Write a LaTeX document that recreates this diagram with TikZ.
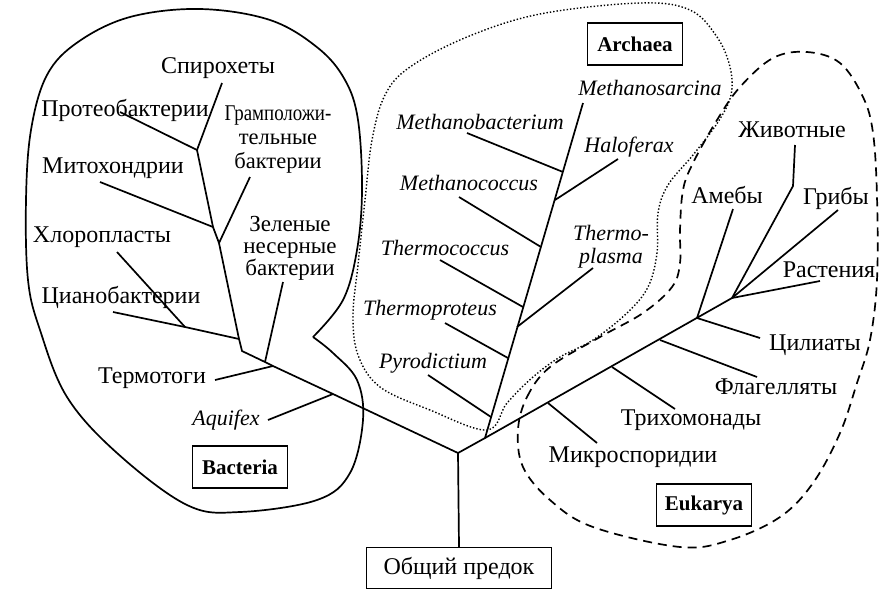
\documentclass[tikz,border=0pt]{standalone}
\usepackage{fontspec}
\setmainfont{Liberation Serif}
\begin{document}
\begin{tikzpicture}[x=1pt,y=-1pt,
  lbl/.style={inner sep=0pt, font=\fontsize{24}{23}\selectfont},
  ilbl/.style={inner sep=0pt, font=\fontsize{22}{23}\selectfont\itshape},
  tag/.style={draw, line width=1.3pt, minimum width=95pt, minimum height=42pt, inner sep=0pt, font=\fontsize{21}{22}\selectfont\bfseries},
  branch/.style={line width=1.7pt, line join=round},
  solidout/.style={line width=1.7pt},
  dotout/.style={line width=1.4pt, dotted},
  dashout/.style={line width=1.7pt, dash pattern=on 9pt off 6pt}]
\useasboundingbox (0,0) rectangle (890,590);

% ---------- outlines ----------
\draw[solidout] plot[smooth, tension=0.6] coordinates {(313,337) (343,300) (357,250) (362,190) (358,120) (345,80) (318,48) (270,20) (200,9) (130,17) (78,42) (47,75) (31,130) (26,200) (28,280) (40,330) (67,397) (117,453) (187,505) (240,512) (317,500) (350,473) (363,420) (357,380) (333,353) (313,337)};
\draw[dotout] plot[smooth cycle, tension=0.6] coordinates {(487,430) (430,410) (380,387) (358,355) (353,315) (358,265) (365,200) (372,140) (385,95) (410,67) (467,37) (540,14) (640,3) (690,10) (717,37) (730,67) (731,95) (718,122) (693,155) (668,185) (658,213) (657,253) (648,287) (627,313) (593,340) (560,357) (533,377) (507,403)};
\draw[dashout] plot[smooth cycle, tension=0.6] coordinates {(518,430) (527,397) (550,367) (600,337) (643,313) (672,287) (680,263) (680,230) (683,190) (693,163) (717,120) (740,87) (773,58) (807,52) (840,63) (863,97) (873,133) (877,197) (877,280) (870,340) (857,383) (840,433) (813,483) (780,517) (730,540) (680,547) (593,527) (550,500) (523,467)};

% ---------- labels ----------
\node[lbl] (spiro) at (218,68) {Спирохеты};
\node[lbl] (proteo) at (125,110) {Протеобактерии};
\node[lbl] (mito) at (113,168) {Митохондрии};
\node[lbl, align=center, font=\fontsize{22.5}{24}\selectfont] (gram) at (278,140) {\scalebox{0.84}[1]{Грамположи-}\\тельные\\бактерии};
\node[lbl] (chloro) at (102,237) {Хлоропласты};
\node[lbl, align=center, font=\fontsize{23}{22}\selectfont] (green) at (290,248) {Зеленые\\несерные\\бактерии};
\node[lbl] (cyano) at (121,297) {Цианобактерии};
\node[lbl] (thermotoga) at (152,378) {Термотоги};
\node[ilbl] (aquifex) at (226,420) {Aquifex};
\node[tag] (bact) at (240,467) {Bacteria};

\node[tag] (arch) at (635,44) {Archaea};
\node[ilbl] (msarc) at (650,88) {Methanosarcina};
\node[ilbl] (mbact) at (480,122) {Methanobacterium};
\node[ilbl] (halo) at (629,147) {Haloferax};
\node[ilbl] (mcocc) at (469,183) {Methanococcus};
\node[ilbl] (tcocc) at (445,248) {Thermococcus};
\node[ilbl, align=center] (tplas) at (611,247) {Thermo-\\plasma};
\node[ilbl] (tprot) at (430,310) {Thermoproteus};
\node[ilbl] (pyro) at (433,363) {Pyrodictium};

\node[lbl] (anim) at (792,130) {Животные};
\node[lbl] (amoeb) at (727,195) {Амебы};
\node[lbl] (fungi) at (836,198) {Грибы};
\node[lbl] (plant) at (829,270) {Растения};
\node[lbl] (cili) at (815,345) {Цилиаты};
\node[lbl] (flag) at (776,387) {Флагелляты};
\node[lbl] (trich) at (691,420) {Трихомонады};
\node[lbl] (micro) at (633,457) {Микроспоридии};
\node[tag] (euk) at (704,505) {Eukarya};

\node[draw, line width=1.3pt, minimum width=185pt, minimum height=41pt, inner sep=0pt, font=\fontsize{24}{23}\selectfont] (anc) at (459,568) {Общий предок};

% ---------- junctions ----------
\coordinate (root) at (458,453);
\coordinate (sp) at (485,438);
% bacteria
\coordinate (bSp) at (197,150);
\coordinate (bMi) at (213,227);
\coordinate (bGr) at (219,243);
\coordinate (bCy) at (239,339);
\coordinate (bCh) at (185,327);
\coordinate (b0) at (242,351);
\coordinate (bGn) at (265,362);
\coordinate (bTh) at (273,366);
\coordinate (bAq) at (333,394);
% bacteria free ends
\coordinate (eSp) at (222,83);
\coordinate (ePr) at (120,112);
\coordinate (eMi) at (100,182);
\coordinate (eGr) at (250,177);
\coordinate (eCh) at (117,252);
\coordinate (eCy) at (113,312);
\coordinate (eGn) at (283,282);
\coordinate (eTh) at (215,380);
\coordinate (eAq) at (268,420);
% archaea
\coordinate (aPy) at (491,417);
\coordinate (aTp) at (508,358);
\coordinate (aTl) at (517,327);
\coordinate (aTc) at (523,307);
\coordinate (aMc) at (541,247);
\coordinate (aHf) at (555,200);
\coordinate (aMb) at (563,172);
\coordinate (aMs) at (583,103);
\coordinate (fPy) at (428,375);
\coordinate (fTp) at (445,323);
\coordinate (fTl) at (593,268);
\coordinate (fTc) at (440,260);
\coordinate (fMc) at (459,197);
\coordinate (fHf) at (618,159);
\coordinate (fMb) at (467,133);
% eukarya
\coordinate (kMi) at (548,403);
\coordinate (kTr) at (612,367);
\coordinate (kFl) at (660,340);
\coordinate (kCi) at (697,318);
\coordinate (kCr) at (732,298);
\coordinate (gMi) at (597,443);
\coordinate (gTr) at (675,409);
\coordinate (gFl) at (757,377);
\coordinate (gCi) at (760,338);
\coordinate (gAm) at (733,209);
\coordinate (gAn1) at (793,186);
\coordinate (gAn) at (795,145);
\coordinate (gFu) at (838,210);
\coordinate (gPl) at (820,281);

% ---------- branches ----------
\draw[branch] (anc.north) -- (root);
\draw[branch] (root) -- (bAq) -- (bTh) -- (bGn) -- (b0) -- (bCy) -- (bGr) -- (bMi) -- (bSp) -- (eSp);
\draw[branch] (bSp) -- (ePr);
\draw[branch] (bMi) -- (eMi);
\draw[branch] (bGr) -- (eGr);
\draw[branch] (bCy) -- (bCh) -- (eCy);
\draw[branch] (bCh) -- (eCh);
\draw[branch] (bGn) -- (eGn);
\draw[branch] (bTh) -- (eTh);
\draw[branch] (bAq) -- (eAq);

\draw[branch] (root) -- (sp) -- (aMs);
\draw[branch] (aPy) -- (fPy);
\draw[branch] (aTp) -- (fTp);
\draw[branch] (aTl) -- (fTl);
\draw[branch] (aTc) -- (fTc);
\draw[branch] (aMc) -- (fMc);
\draw[branch] (aHf) -- (fHf);
\draw[branch] (aMb) -- (fMb);

\draw[branch] (sp) -- (kCr);
\draw[branch] (kMi) -- (gMi);
\draw[branch] (kTr) -- (gTr);
\draw[branch] (kFl) -- (gFl);
\draw[branch] (kCi) -- (gCi);
\draw[branch] (kCi) -- (gAm);
\draw[branch] (kCr) -- (gAn1) -- (gAn);
\draw[branch] (kCr) -- (gFu);
\draw[branch] (kCr) -- (gPl);
\end{tikzpicture}
\end{document}
